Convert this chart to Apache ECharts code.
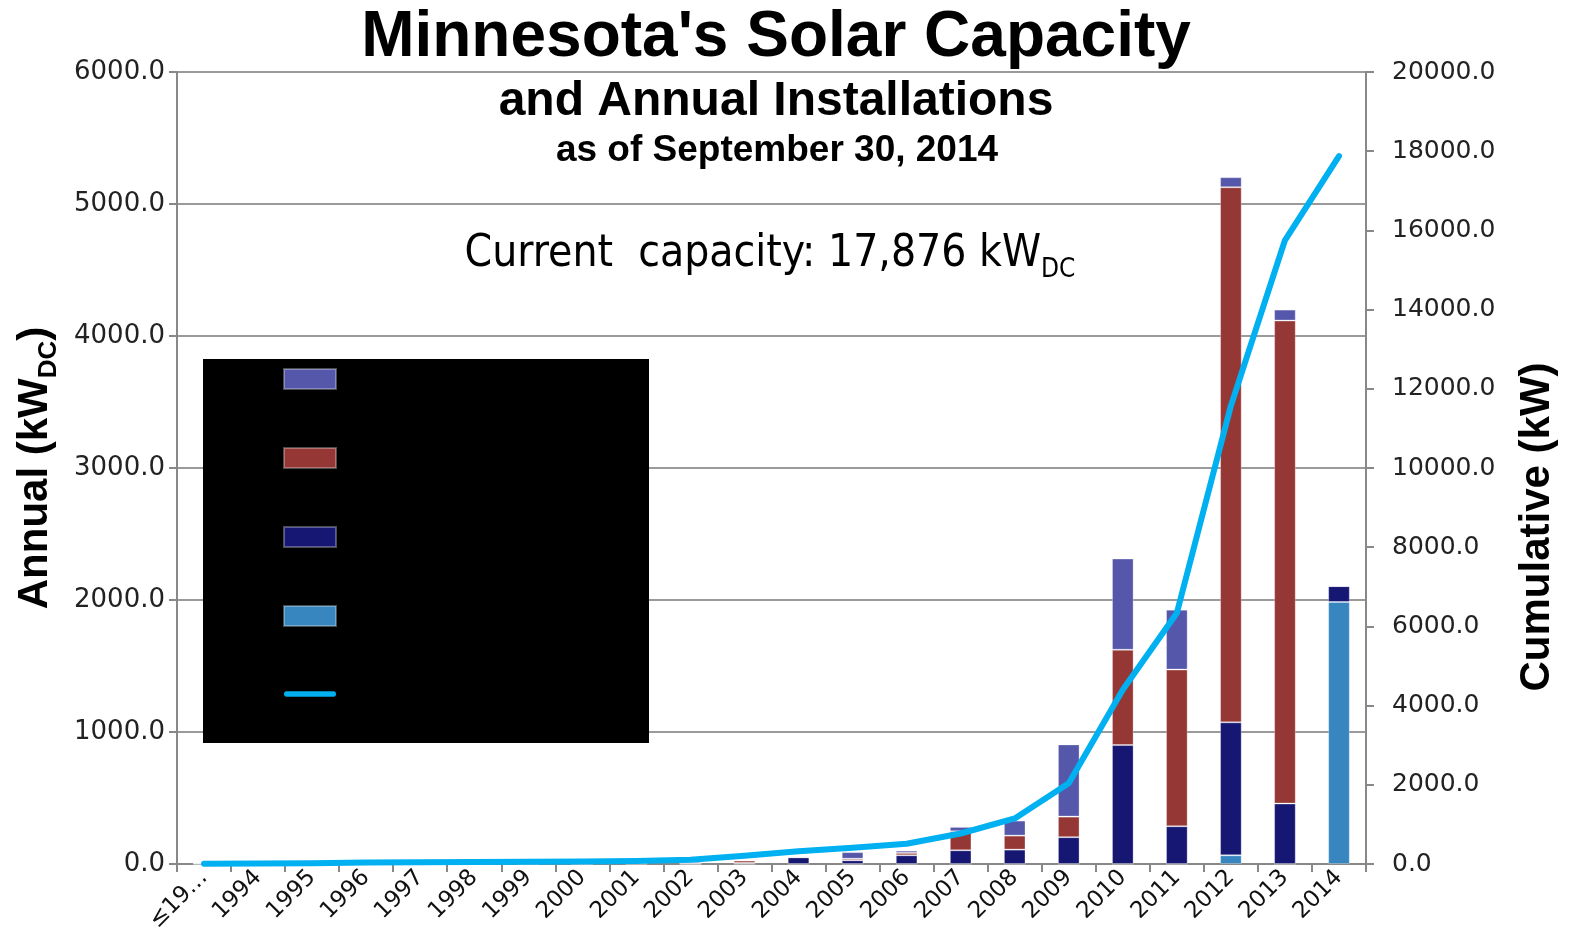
<!DOCTYPE html>
<html>
<head>
<meta charset="utf-8">
<script src="https://cdn.jsdelivr.net/npm/echarts@6/dist/echarts.min.js"></script>
<style>
html,body{margin:0;padding:0;background:#fff;}
#chart{width:1572px;height:943px;}
</style>
</head>
<body>
<div id="chart"></div>
<script>
// ---- data ----
var categories = ['≤19…','1994','1995','1996','1997','1998','1999','2000','2001','2002','2003','2004','2005','2006','2007','2008','2009','2010','2011','2012','2013','2014'];
var seriesNames = ['Other Programs', 'Solar*Rewards', 'Utility Rebates', 'Community / Made in MN', 'Cumulative'];
// stacked annual installations (kW DC), bottom to top
var lightBlueValues = [0,0,0,0,0,0,0,0,0,0,0,0,0,0,0,0,0,0,0,66,0,1985];
var navyValues      = [3,2,5,8,3,3,3,3,4,3,8,50,28,66,104,109,203,901,286,1007,458,120];
var redValues       = [0,0,0,0,0,0,0,0,0,0,18,8,12,18,144,106,156,722,1187,4054,3659,0];
var purpleValues    = [0,0,0,0,0,0,0,0,0,12,6,5,50,17,33,114,547,691,454,76,83,0];
// cumulative capacity (kW)
var cumulativeValues = [5,12,20,35,45,50,58,65,75,110,210,320,410,510,770,1150,2040,4400,6340,11570,15750,17876];
var leftTicks = {min:0, max:6000, interval:1000};
var rightTicks = {min:0, max:20000, interval:2000};

var colors = {purple:'#5558AA', red:'#953735', navy:'#161673', lightBlue:'#3786C0', line:'#00B0F0'};
var tickFont = 'DejaVu Sans';
var boldFont = '"Liberation Sans", Arial, sans-serif';
var narrowFont = '"Liberation Sans Narrow", "DejaVu Sans Condensed", sans-serif';

var chart = echarts.init(document.getElementById('chart'), null, {renderer:'canvas'});

function barSeries(name, data, color) {
  return {
    name: name, type: 'bar', stack: 'annual', data: data, barWidth: '40%',
    itemStyle: {color: color, borderColor: 'rgba(255,255,255,0.3)', borderWidth: 1},
    emphasis: {disabled: true}
  };
}

var option = {
  animation: false,
  backgroundColor: '#ffffff',
  grid: {left: 177, right: 206, top: 72, bottom: 79, containLabel: false},
  legend: {
    orient: 'vertical', left: 283, top: 368, padding: 0,
    itemWidth: 52, itemHeight: 20, itemGap: 57, z: 10,
    textStyle: {color: '#000000', fontSize: 20, fontFamily: boldFont},
    data: [
      {name: seriesNames[0], icon: 'rect'},
      {name: seriesNames[1], icon: 'rect'},
      {name: seriesNames[2], icon: 'rect'},
      {name: seriesNames[3], icon: 'rect'},
      {name: seriesNames[4], icon: 'path://M3,0 L55,0 A3,3 0 0 1 55,6 L3,6 A3,3 0 0 1 3,0 Z'}
    ],
    selectedMode: false
  },
  xAxis: {
    type: 'category', data: categories,
    axisLine: {lineStyle: {color: '#888888', width: 2}},
    axisTick: {show: true, length: 8, lineStyle: {color: '#888888', width: 2}},
    axisLabel: {rotate: 45, fontSize: 23, color: '#111111', fontFamily: tickFont, margin: 10, interval: 0}
  },
  yAxis: [
    {
      type: 'value', min: leftTicks.min, max: leftTicks.max, interval: leftTicks.interval,
      axisLine: {show: true, lineStyle: {color: '#888888', width: 2}},
      axisTick: {show: true, length: 8, lineStyle: {color: '#888888', width: 2}},
      splitLine: {show: true, lineStyle: {color: '#9a9a9a', width: 2}},
      axisLabel: {fontSize: 26, color: '#222222', fontFamily: tickFont, margin: 12,
        formatter: function (v) { return v.toFixed(1); }}
    },
    {
      type: 'value', position: 'right', min: rightTicks.min, max: rightTicks.max, interval: rightTicks.interval,
      axisLine: {show: true, lineStyle: {color: '#888888', width: 2}},
      axisTick: {show: true, length: 8, lineStyle: {color: '#888888', width: 2}},
      splitLine: {show: false},
      axisLabel: {fontSize: 25, color: '#222222', fontFamily: tickFont, margin: 26,
        formatter: function (v) { return v.toFixed(1); }}
    }
  ],
  series: [
    barSeries(seriesNames[3], lightBlueValues, colors.lightBlue),
    barSeries(seriesNames[2], navyValues, colors.navy),
    barSeries(seriesNames[1], redValues, colors.red),
    barSeries(seriesNames[0], purpleValues, colors.purple),
    {
      name: seriesNames[4], type: 'line', yAxisIndex: 1, data: cumulativeValues,
      symbol: 'none', z: 5,
      lineStyle: {color: colors.line, width: 6, cap: 'round', join: 'round'},
      itemStyle: {color: colors.line},
      emphasis: {disabled: true}
    }
  ],
  graphic: [
    {type: 'rect', z: 3, shape: {x: 203, y: 359, width: 446, height: 384}, style: {fill: '#000000'}, silent: true},
    {type: 'text', x: 776, y: 38, style: {text: "Minnesota's Solar Capacity", font: 'bold 64px ' + boldFont, fill: '#000', align: 'center', verticalAlign: 'middle'}},
    {type: 'text', x: 776, y: 102, style: {text: 'and Annual Installations', font: 'bold 48px ' + boldFont, fill: '#000', align: 'center', verticalAlign: 'middle'}},
    {type: 'text', x: 777, y: 151, style: {text: 'as of September 30, 2014', font: 'bold 37px ' + boldFont, fill: '#000', align: 'center', verticalAlign: 'middle'}},
    {type: 'text', x: 770, y: 258, style: {
      text: '{a|Current  capacity: 17,876 kW}{b|DC}',
      align: 'center', verticalAlign: 'middle',
      rich: {
        a: {fontFamily: narrowFont, fontSize: 44, lineHeight: 50, color: '#000', verticalAlign: 'top'},
        b: {fontFamily: narrowFont, fontSize: 26, lineHeight: 22, color: '#000', verticalAlign: 'bottom'}
      }
    }},
    {type: 'text', x: 38, y: 468, rotation: Math.PI / 2, style: {
      text: '{a|Annual (kW}{b|DC}{a|)}',
      align: 'center', verticalAlign: 'middle',
      rich: {
        a: {fontFamily: boldFont, fontWeight: 'bold', fontSize: 42, lineHeight: 48, color: '#000', verticalAlign: 'top'},
        b: {fontFamily: boldFont, fontWeight: 'bold', fontSize: 26, lineHeight: 22, color: '#000', verticalAlign: 'bottom'}
      }
    }},
    {type: 'text', x: 1537, y: 527, rotation: Math.PI / 2, style: {
      text: 'Cumulative (kW)', font: 'bold 42px ' + boldFont, fill: '#000', align: 'center', verticalAlign: 'middle'}}
  ]
};
chart.setOption(option);
</script>
</body>
</html>
